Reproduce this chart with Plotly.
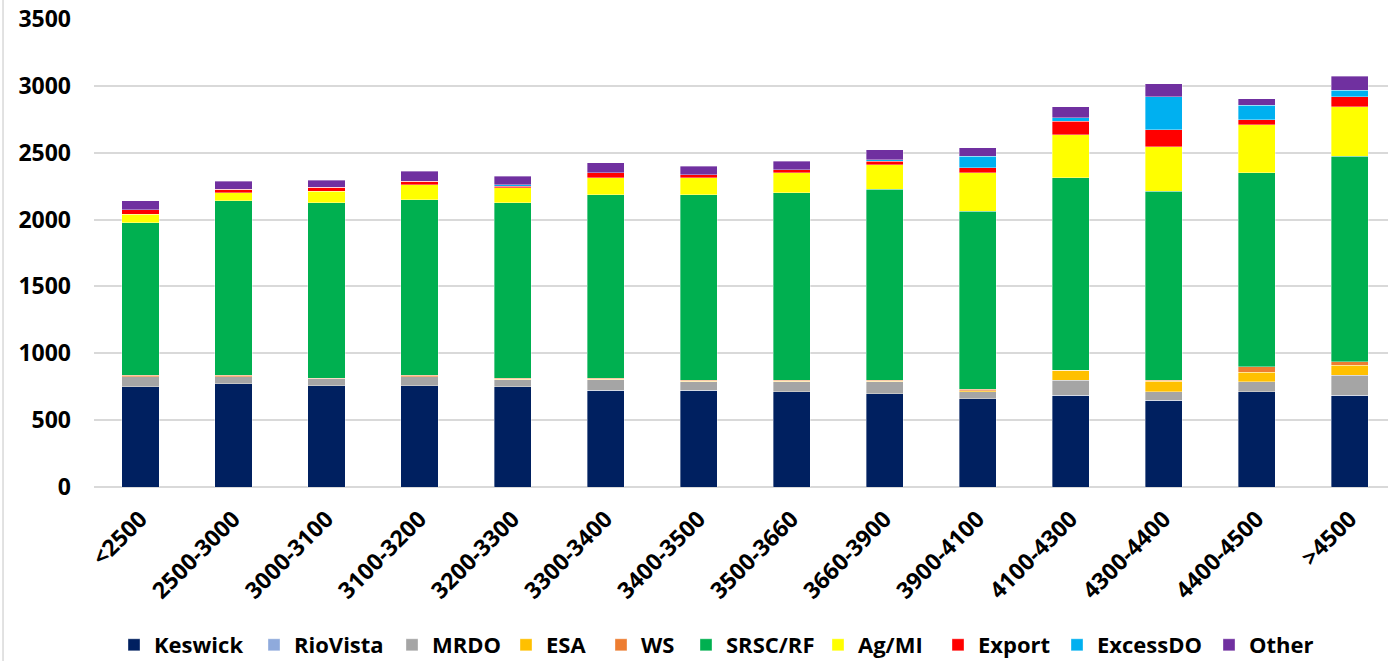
import plotly.graph_objects as go

categories = ["<2500", "2500-3000", "3000-3100", "3100-3200", "3200-3300", "3300-3400",
              "3400-3500", "3500-3660", "3660-3900", "3900-4100", "4100-4300", "4300-4400",
              "4400-4500", ">4500"]

keswick   = [748, 773, 758, 758, 748, 723, 723, 711, 699, 661, 686, 649, 711, 686]
riovista  = [0, 0, 0, 0, 0, 0, 0, 0, 0, 0, 0, 0, 0, 0]
mrdo      = [75, 50, 52, 65, 55, 80, 65, 77, 89, 50, 112, 62, 75, 150]
esa       = [3, 3, 0, 3, 3, 3, 3, 3, 3, 10, 75, 80, 74, 74]
ws        = [9, 9, 3, 9, 7, 7, 7, 7, 7, 10, 0, 7, 38, 25]
srsc_rf   = [1143, 1305, 1312, 1315, 1314, 1374, 1389, 1404, 1427, 1331, 1438, 1414, 1451, 1539]
ag_mi     = [62, 60, 85, 110, 110, 125, 125, 147, 186, 287, 325, 331, 362, 368]
export    = [35, 25, 30, 25, 13, 37, 25, 25, 25, 37, 99, 130, 37, 75]
excess_do = [0, 0, 0, 3, 12, 0, 0, 0, 13, 88, 25, 244, 107, 50]
other     = [65, 60, 55, 73, 61, 75, 60, 62, 75, 62, 82, 100, 50, 105]

series_names = ["Keswick", "RioVista", "MRDO", "ESA", "WS", "SRSC/RF", "Ag/MI", "Export", "ExcessDO", "Other"]
series_values = [keswick, riovista, mrdo, esa, ws, srsc_rf, ag_mi, export, excess_do, other]
series_colors = ["#002060", "#8FAADC", "#A5A5A5", "#FFC000", "#ED7D31", "#00B050",
                 "#FFFF00", "#FF0000", "#00B0F0", "#7030A0"]
# left pixel of each legend swatch in the reference
legend_left_px = [128, 268, 406, 520, 615, 700, 832, 952, 1071, 1223]

FONT = "Open Sans"
W, H = 1388, 661

fig = go.Figure()
legends = {}
for i, (name, vals, col, lx) in enumerate(zip(series_names, series_values, series_colors, legend_left_px)):
    key = "legend" if i == 0 else f"legend{i+1}"
    fig.add_trace(go.Bar(
        name=name, x=categories, y=vals,
        marker=dict(color=col, line=dict(width=0.8, color="rgba(255,255,255,0.45)")),
        legend=key,
    ))
    legends[key] = dict(
        xref="container", yref="container",
        x=(lx - 14) / W, xanchor="left",
        y=(H - 645) / H, yanchor="middle",
        bgcolor="rgba(0,0,0,0)",
        font=dict(family=FONT, size=22, color="black", weight="bold"),
    )

fig.update_layout(
    barmode="stack",
    bargap=0.6,
    width=W, height=H,
    margin=dict(l=94, r=0, t=19, b=174, autoexpand=False),
    paper_bgcolor="white",
    plot_bgcolor="white",
    font=dict(family=FONT, size=23, color="black", weight="bold"),
    showlegend=True,
    xaxis=dict(
        range=[-0.5, 13.41],
        tickangle=-45,
        showgrid=False,
        showline=False,
        zeroline=False,
        ticks="",
        automargin=False,
        ticklabelstandoff=13,
        tickfont=dict(family=FONT, size=23, color="black", weight="bold"),
    ),
    yaxis=dict(
        range=[0, 3500],
        dtick=500,
        showgrid=True,
        gridcolor="#D9D9D9",
        gridwidth=1.5,
        zeroline=True,
        zerolinecolor="#D9D9D9",
        zerolinewidth=1.5,
        showline=False,
        ticks="",
        automargin=False,
        ticklabelstandoff=22,
        tickfont=dict(family=FONT, size=23, color="black", weight="bold"),
    ),
    shapes=[dict(type="line", xref="paper", yref="paper",
                 x0=-0.0703, x1=-0.0703, y0=-0.4, y1=1.05,
                 line=dict(color="#D9D9D9", width=1.5))],
    **legends,
)

fig.write_html("out.html")
